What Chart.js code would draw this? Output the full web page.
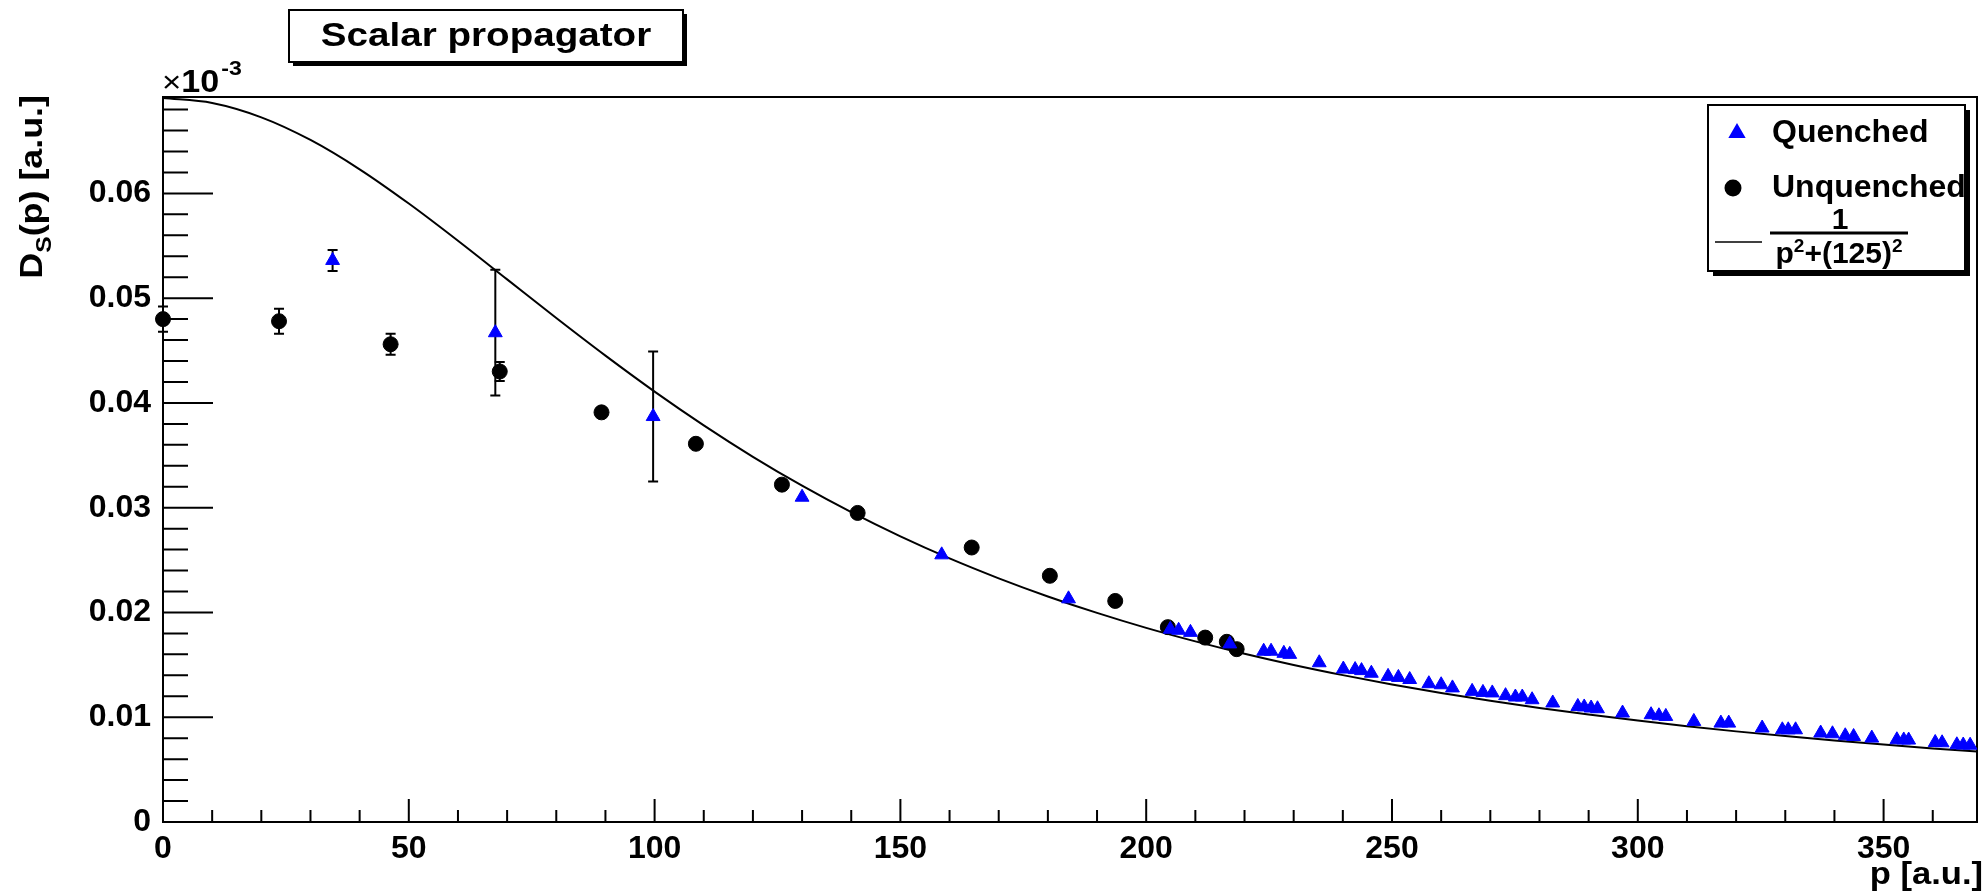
<!DOCTYPE html>
<html>
<head>
<meta charset="utf-8">
<title>Scalar propagator</title>
<script src="https://cdn.jsdelivr.net/npm/chart.js@4.4.1/dist/chart.umd.min.js"></script>
<style>
    html, body { margin: 0; padding: 0; background: #fff; }
    #wrap { width: 1986px; height: 896px; }
</style>
</head>
<body>
<div id="wrap"><canvas id="propagatorChart" width="1986" height="896"></canvas></div>
<script>
// Quenched lattice data (blue triangles)
const quenchedP = [34.5, 67.6, 99.7, 130.0, 158.4, 184.2, 204.9, 206.6, 209.0, 217.0,
    223.9, 225.4, 228.0, 229.2, 235.2, 240.1, 242.5, 243.8, 245.8, 249.2,
    251.3, 253.6, 257.5, 260.0, 262.3, 266.3, 268.5, 270.4, 273.1, 275.1,
    276.5, 278.5, 282.7, 287.8, 289.1, 290.5, 291.8, 296.9, 302.7, 304.3,
    305.7, 311.4, 316.9, 318.5, 325.3, 329.4, 330.6, 332.1, 337.2, 339.6,
    342.2, 343.9, 347.6, 352.7, 354.1, 355.1, 360.5, 361.9, 364.9, 366.2, 367.6];
const quenchedD = [0.0536, 0.0467, 0.0387, 0.0310, 0.0255, 0.0213, 0.0184, 0.0183, 0.0181, 0.0170,
    0.0163, 0.0163, 0.0161, 0.0160, 0.0152, 0.0146, 0.01455, 0.01445, 0.0142, 0.0139,
    0.0138, 0.0136, 0.0132, 0.0131, 0.0128, 0.01247, 0.01237, 0.01232, 0.01206, 0.01193,
    0.01193, 0.01167, 0.01136, 0.01103, 0.01098, 0.01088, 0.01081, 0.0104, 0.01024, 0.01014,
    0.01008, 0.0096, 0.00944, 0.00944, 0.00897, 0.0088, 0.0088, 0.0088, 0.00849, 0.00842,
    0.00823, 0.00816, 0.00801, 0.00785, 0.00783, 0.00782, 0.00759, 0.00756, 0.00737, 0.00735, 0.00733];
const quenchedErr = [0.0010, 0.0060, 0.0062, 0, 0, 0, 0, 0, 0, 0,
    0, 0, 0, 0, 0, 0, 0, 0, 0, 0,
    0, 0, 0, 0, 0, 0, 0, 0, 0, 0,
    0, 0, 0, 0, 0, 0, 0, 0, 0, 0,
    0, 0, 0, 0, 0, 0, 0, 0, 0, 0,
    0, 0, 0, 0, 0, 0, 0, 0, 0, 0, 0];

// Unquenched lattice data (black circles)
const unquenchedP = [0, 23.6, 46.3, 68.5, 89.2, 108.4, 125.9, 141.3, 164.5, 180.4, 193.7, 204.4, 212.0, 216.4, 218.4];
const unquenchedD = [0.0480, 0.0478, 0.0456, 0.0430, 0.0391, 0.0361, 0.0322, 0.0295, 0.0262, 0.0235, 0.0211, 0.0186, 0.0176, 0.0172, 0.0165];
const unquenchedErr = [0.0012, 0.0012, 0.0010, 0.0009, 0, 0, 0, 0, 0, 0, 0, 0, 0, 0, 0];

// Free propagator curve
const curveP = [0, 10, 20, 30, 40, 50, 60, 70, 80, 90, 100, 110, 120, 130, 140, 150, 160, 170, 180,
    190, 200, 210, 220, 230, 240, 250, 260, 270, 280, 290, 300, 310, 320, 330, 340, 350, 360, 369];
const curveD = [0.0691, 0.06863, 0.06726, 0.06510, 0.06230, 0.05903, 0.05548, 0.05179, 0.04810, 0.04451,
    0.04108, 0.03786, 0.03486, 0.03210, 0.02957, 0.02726, 0.02516, 0.02326, 0.02153, 0.01996,
    0.01853, 0.01724, 0.01606, 0.01499, 0.01402, 0.01313, 0.01231, 0.01157, 0.01089, 0.01026,
    0.00968, 0.00915, 0.00865, 0.00820, 0.00778, 0.00739, 0.00702, 0.00672];

const FONT = '"Liberation Sans", Arial, Helvetica, sans-serif';
const toPoints = (xs, ys) => xs.map((x, i) => ({ x: x, y: ys[i] }));

// draw text a bit wider, like the ROOT renderer does
function wideText(ctx, text, x, y, stretch) {
    ctx.save();
    ctx.translate(x, y);
    ctx.scale(stretch, 1);
    ctx.fillText(text, 0, 0);
    ctx.restore();
    return ctx.measureText(text).width * stretch;
}

// ROOT-like frame with inward tick marks
const frameTicks = {
    id: 'frameTicks',
    beforeDatasetsDraw(chart) {
        const { ctx, chartArea: a, scales: { x, y } } = chart;
        ctx.save();
        ctx.strokeStyle = '#000';
        ctx.lineWidth = 2;
        ctx.strokeRect(a.left, a.top, a.right - a.left, a.bottom - a.top);
        ctx.beginPath();
        for (let v = 0; v <= x.max; v += 10) {
            const px = x.getPixelForValue(v);
            const len = v % 50 === 0 ? 23 : 12;
            ctx.moveTo(px, a.bottom);
            ctx.lineTo(px, a.bottom - len);
        }
        for (let k = 0; k * 0.002 <= y.max; k++) {
            const py = y.getPixelForValue(k * 0.002);
            const len = k % 5 === 0 ? 50 : 25;
            ctx.moveTo(a.left, py);
            ctx.lineTo(a.left + len, py);
        }
        ctx.stroke();
        ctx.restore();
    }
};

// Vertical error bars with small caps, drawn under the markers
const errorBars = {
    id: 'errorBars',
    beforeDatasetsDraw(chart) {
        const { ctx, scales: { x, y } } = chart;
        ctx.save();
        ctx.strokeStyle = '#000';
        ctx.lineWidth = 2;
        chart.data.datasets.forEach(ds => {
            if (!ds.errors) return;
            ds.data.forEach((pt, i) => {
                const e = ds.errors[i];
                if (!e) return;
                const px = x.getPixelForValue(pt.x);
                const top = y.getPixelForValue(pt.y + e);
                const bot = y.getPixelForValue(pt.y - e);
                ctx.beginPath();
                ctx.moveTo(px, top); ctx.lineTo(px, bot);
                ctx.moveTo(px - 5, top); ctx.lineTo(px + 5, top);
                ctx.moveTo(px - 5, bot); ctx.lineTo(px + 5, bot);
                ctx.stroke();
            });
        });
        ctx.restore();
    }
};

// Title box, axis titles, exponent and legend
const annotations = {
    id: 'annotations',
    afterDraw(chart) {
        const ctx = chart.ctx;
        ctx.save();

        // title box with shadow
        ctx.fillStyle = '#000';
        ctx.fillRect(293, 14, 394, 52);
        ctx.fillStyle = '#fff';
        ctx.fillRect(289, 10, 394, 52);
        ctx.strokeStyle = '#000';
        ctx.lineWidth = 2;
        ctx.strokeRect(289, 10, 394, 52);
        ctx.fillStyle = '#000';
        ctx.font = 'bold 33px ' + FONT;
        ctx.textAlign = 'left';
        ctx.textBaseline = 'middle';
        const tw = ctx.measureText('Scalar propagator').width * 1.17;
        wideText(ctx, 'Scalar propagator', 486 - tw / 2, 37, 1.17);

        // x10^-3 exponent
        ctx.textBaseline = 'alphabetic';
        ctx.font = '30px ' + FONT;
        let w = wideText(ctx, '\u00d7', 162, 92, 1.1);
        ctx.font = 'bold 31px ' + FONT;
        w += wideText(ctx, '10', 162 + w, 92, 1.1);
        ctx.font = 'bold 21px ' + FONT;
        wideText(ctx, '-3', 164 + w, 75, 1.1);

        // x axis title
        ctx.font = 'bold 32px ' + FONT;
        ctx.textAlign = 'right';
        ctx.save();
        ctx.translate(1983, 884);
        ctx.scale(1.08, 1);
        ctx.fillText('p [a.u.]', 0, 0);
        ctx.restore();

        // y axis title, rotated
        ctx.save();
        ctx.translate(42, 95);
        ctx.rotate(-Math.PI / 2);
        ctx.scale(1.12, 1);
        ctx.textAlign = 'left';
        const rest = '(p) [a.u.]';
        ctx.font = 'bold 32px ' + FONT;
        const wD = ctx.measureText('D').width;
        const wRest = ctx.measureText(rest).width;
        ctx.font = 'bold 22px ' + FONT;
        const wS = ctx.measureText('S').width;
        const x0 = -(wD + wS + wRest);
        ctx.font = 'bold 32px ' + FONT;
        ctx.fillText('D', x0, 0);
        ctx.fillText(rest, x0 + wD + wS, 0);
        ctx.font = 'bold 22px ' + FONT;
        ctx.fillText('S', x0 + wD, 9);
        ctx.restore();

        // legend box with shadow
        const lx = 1708, ly = 105, lw = 257, lh = 166;
        ctx.fillStyle = '#000';
        ctx.fillRect(lx + 5, ly + 5, lw, lh);
        ctx.fillStyle = '#fff';
        ctx.fillRect(lx, ly, lw, lh);
        ctx.strokeStyle = '#000';
        ctx.lineWidth = 2;
        ctx.strokeRect(lx, ly, lw, lh);

        ctx.save();
        ctx.beginPath();
        ctx.rect(lx, ly, lw - 1, lh);
        ctx.clip();
        ctx.fillStyle = '#0000ff';
        ctx.strokeStyle = '#0000ff';
        Chart.helpers.drawPoint(ctx, { pointStyle: 'triangle', radius: 8, borderWidth: 1, rotation: 0 }, 1737, 133);
        ctx.fillStyle = '#000';
        ctx.strokeStyle = '#000';
        Chart.helpers.drawPoint(ctx, { pointStyle: 'circle', radius: 7.5, borderWidth: 1, rotation: 0 }, 1733, 188);

        ctx.font = 'bold 32px ' + FONT;
        ctx.textAlign = 'left';
        ctx.textBaseline = 'middle';
        wideText(ctx, 'Quenched', 1772, 133, 1.0);
        wideText(ctx, 'Unquenched', 1772, 188, 1.0);

        // line sample and fraction
        ctx.lineWidth = 1.5;
        ctx.beginPath();
        ctx.moveTo(1715, 242);
        ctx.lineTo(1762, 242);
        ctx.stroke();
        ctx.font = 'bold 30px ' + FONT;
        ctx.textAlign = 'center';
        ctx.textBaseline = 'alphabetic';
        ctx.fillText('1', 1840, 229);
        ctx.lineWidth = 3;
        ctx.beginPath();
        ctx.moveTo(1770, 233);
        ctx.lineTo(1908, 233);
        ctx.stroke();
        ctx.textAlign = 'left';
        const parts = [['p', 30, 0], ['2', 19, -11], ['+(125)', 30, 0], ['2', 19, -11]];
        let total = 0;
        parts.forEach(p => { ctx.font = 'bold ' + p[1] + 'px ' + FONT; total += ctx.measureText(p[0]).width; });
        let cx = 1839 - total / 2;
        parts.forEach(p => {
            ctx.font = 'bold ' + p[1] + 'px ' + FONT;
            ctx.fillText(p[0], cx, 263 + p[2]);
            cx += ctx.measureText(p[0]).width;
        });
        ctx.restore();

        ctx.restore();
    }
};

new Chart(document.getElementById('propagatorChart'), {
    type: 'scatter',
    data: {
        datasets: [
            {
                label: 'Quenched',
                data: toPoints(quenchedP, quenchedD),
                errors: quenchedErr,
                pointStyle: 'triangle',
                pointRadius: 8,
                backgroundColor: '#0000ff',
                borderColor: '#0000ff',
                borderWidth: 1,
                clip: false
            },
            {
                label: 'Unquenched',
                data: toPoints(unquenchedP, unquenchedD),
                errors: unquenchedErr,
                pointStyle: 'circle',
                pointRadius: 7.5,
                backgroundColor: '#000',
                borderColor: '#000',
                borderWidth: 1,
                clip: false
            },
            {
                type: 'line',
                label: '1/(p^2+125^2)',
                data: toPoints(curveP, curveD),
                borderColor: '#000',
                borderWidth: 2,
                pointRadius: 0,
                fill: false,
                cubicInterpolationMode: 'monotone'
            }
        ]
    },
    options: {
        responsive: false,
        animation: false,
        devicePixelRatio: 1,
        layout: { padding: { left: 0, top: 97, right: 3, bottom: 0 } },
        plugins: {
            legend: { display: false },
            tooltip: { enabled: false },
            title: { display: false }
        },
        scales: {
            x: {
                type: 'linear',
                min: 0,
                max: 369,
                grid: { display: false, drawTicks: false },
                border: { display: false },
                ticks: {
                    stepSize: 50,
                    includeBounds: false,
                    maxRotation: 0,
                    autoSkip: false,
                    padding: 8,
                    color: '#000',
                    font: { family: FONT, size: 32, weight: 'bold' }
                },
                afterFit: scale => { scale.height = 74; }
            },
            y: {
                type: 'linear',
                min: 0,
                max: 0.0692,
                grid: { display: false, drawTicks: false },
                border: { display: false },
                ticks: {
                    stepSize: 0.01,
                    includeBounds: false,
                    padding: 12,
                    color: '#000',
                    font: { family: FONT, size: 32, weight: 'bold' },
                    callback: v => (Math.abs(v) < 1e-9 ? '0' : v.toFixed(2))
                },
                afterFit: scale => { scale.width = 163; }
            }
        }
    },
    plugins: [frameTicks, errorBars, annotations]
});
</script>
</body>
</html>
